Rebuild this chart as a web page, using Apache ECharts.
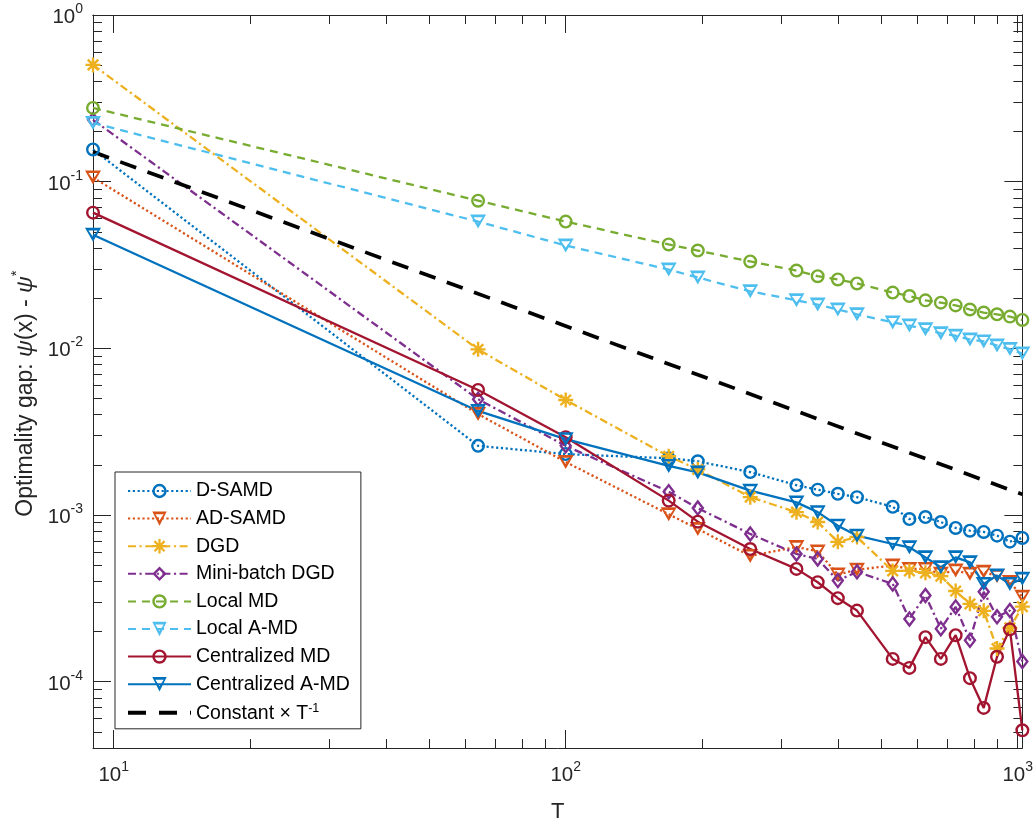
<!DOCTYPE html>
<html><head><meta charset="utf-8">
<script src="https://cdn.jsdelivr.net/npm/echarts@6/dist/echarts.min.js"></script>
<style>html,body{margin:0;padding:0;background:#fff}#c{width:1036px;height:828px}</style>
</head><body><div id="c"></div>
<script>
// ---- data ----
const T = [9, 64, 100, 169, 196, 256, 324, 361, 400, 441, 529, 576, 625, 676, 729, 784, 841, 900, 961, 1024];
const dSAMD    = [0.156, 2.60e-3, 2.32e-3, 2.19e-3, 2.10e-3, 1.81e-3, 1.51e-3, 1.42e-3, 1.34e-3, 1.28e-3, 1.12e-3, 9.46e-4, 9.72e-4, 9.07e-4, 8.36e-4, 8.05e-4, 7.91e-4, 7.52e-4, 6.92e-4, 7.28e-4];
const adSAMD   = [0.106, 4.03e-3, 2.08e-3, 1.01e-3, 8.24e-4, 5.68e-4, 6.43e-4, 6.05e-4, 4.4e-4, 4.7e-4, 4.97e-4, 4.75e-4, 4.75e-4, 4.44e-4, 4.64e-4, 4.44e-4, 4.56e-4, 4.3e-4, 3.97e-4, 3.23e-4];
const dgd      = [0.502, 9.86e-3, 4.9e-3, 2.25e-3, 1.88e-3, 1.28e-3, 1.04e-3, 9.07e-4, 6.9e-4, 7.38e-4, 4.62e-4, 4.62e-4, 4.5e-4, 4.3e-4, 3.5e-4, 2.93e-4, 2.66e-4, 1.58e-4, 2.1e-4, 2.82e-4];
const miniDGD  = [0.235, 4.95e-3, 2.6e-3, 1.38e-3, 1.1e-3, 7.7e-4, 5.84e-4, 5.45e-4, 4.04e-4, 4.56e-4, 3.86e-4, 2.38e-4, 3.29e-4, 2.08e-4, 2.81e-4, 1.77e-4, 3.46e-4, 2.45e-4, 2.67e-4, 1.32e-4];
const localMD  = [0.277, 0.0769, 0.0576, 0.042, 0.0386, 0.0332, 0.0293, 0.0271, 0.0259, 0.0245, 0.0216, 0.0206, 0.0194, 0.0188, 0.0181, 0.0171, 0.0164, 0.016, 0.0155, 0.0148];
const localAMD = [0.225, 0.0576, 0.0414, 0.0297, 0.0266, 0.022, 0.0194, 0.0183, 0.0171, 0.016, 0.0143, 0.0137, 0.013, 0.0123, 0.0119, 0.0113, 0.011, 0.0104, 0.0099, 0.0093];
const centMD   = [0.0652, 5.63e-3, 2.93e-3, 1.22e-3, 9.12e-4, 6.25e-4, 4.75e-4, 3.95e-4, 3.17e-4, 2.67e-4, 1.37e-4, 1.21e-4, 1.85e-4, 1.37e-4, 1.90e-4, 1.05e-4, 6.96e-5, 1.41e-4, 2.06e-4, 5.11e-5];
const centAMD  = [0.048, 4.21e-3, 2.85e-3, 1.97e-3, 1.80e-3, 1.40e-3, 1.19e-3, 1.04e-3, 8.63e-4, 7.52e-4, 6.7e-4, 6.4e-4, 5.57e-4, 4.86e-4, 5.57e-4, 5.2e-4, 3.86e-4, 4.33e-4, 3.86e-4, 4.14e-4];
const constT   = [9, 1024];
const constV   = [0.151, 0.00133];

const seriesNames = ['D-SAMD', 'AD-SAMD', 'DGD', 'Mini-batch DGD', 'Local MD', 'Local A-MD', 'Centralized MD', 'Centralized A-MD', 'Constant × T^-1'];

const xMajorTicks = [10, 100, 1000];
const xMinorTicks = [20, 30, 40, 50, 60, 70, 80, 90, 200, 300, 400, 500, 600, 700, 800, 900];
const yMajorTicks = [1e-4, 1e-3, 1e-2, 1e-1, 1];
const yMinorTicks = [5e-5, 6e-5, 7e-5, 8e-5, 9e-5,
  2e-4, 3e-4, 4e-4, 5e-4, 6e-4, 7e-4, 8e-4, 9e-4,
  2e-3, 3e-3, 4e-3, 5e-3, 6e-3, 7e-3, 8e-3, 9e-3,
  2e-2, 3e-2, 4e-2, 5e-2, 6e-2, 7e-2, 8e-2, 9e-2,
  0.2, 0.3, 0.4, 0.5, 0.6, 0.7, 0.8, 0.9];

// ---- styling ----
const FONT = '"Liberation Sans", Arial, Helvetica, sans-serif';
const AX = '#262626';
const X0 = 9, X1 = 1024, Y0 = 4e-5, Y1 = 1;
const lg = Math.log10;

const SYM = {
  circle: 'path://M10,0A10,10,0,1,1,10,20A10,10,0,1,1,10,0ZM10,3.4A6.6,6.6,0,1,0,10,16.6A6.6,6.6,0,1,0,10,3.4Z',
  tri: 'path://M0,0L20,0L10,17.32ZM4.28,3.3L10,11.0L15.72,3.3Z',
  diamond: 'path://M10,0L20,10L10,20L0,10ZM10,4.6L4.6,10L10,15.4L15.4,10Z',
  star: 'path://M0,8.4H20V11.6H0ZM8.4,0H11.6V20H8.4ZM4.13,1.87L18.13,15.87L15.87,18.13L1.87,4.13ZM15.87,1.87L18.13,4.13L4.13,18.13L1.87,15.87Z'
};
const DOT = [2.2, 2.6];
const DASHDOT = [8, 3.5, 2.2, 3.5];
const DASH = [8, 6];

function mk(name, vals, color, sym, size, dash) {
  return {
    name, type: 'line', xAxisIndex: 0, yAxisIndex: 0, clip: false,
    data: T.map((t, i) => [t, vals[i]]),
    symbol: SYM[sym], symbolSize: size, showSymbol: true, showAllSymbol: true,
    symbolKeepAspect: false,
    lineStyle: { color, width: 2.3, type: dash },
    itemStyle: { color, borderWidth: 0 },
    emphasis: { disabled: true }, animation: false
  };
}

const series = [
  mk(seriesNames[0], dSAMD, '#0072BD', 'circle', 14, DOT),
  mk(seriesNames[1], adSAMD, '#D95319', 'tri', [16, 14], DOT),
  mk(seriesNames[2], dgd, '#EDB120', 'star', 15, DASHDOT),
  mk(seriesNames[3], miniDGD, '#7E2F8E', 'diamond', [13, 17], DASHDOT),
  mk(seriesNames[4], localMD, '#77AC30', 'circle', 14, DASH),
  mk(seriesNames[5], localAMD, '#4DBEEE', 'tri', [16, 14], DASH),
  mk(seriesNames[6], centMD, '#A2142F', 'circle', 14, 'solid'),
  mk(seriesNames[7], centAMD, '#0072BD', 'tri', [16, 14], 'solid'),
  {
    name: seriesNames[8], type: 'line', xAxisIndex: 0, yAxisIndex: 0, clip: false,
    data: constT.map((t, i) => [t, constV[i]]),
    symbol: 'none',
    lineStyle: { color: '#000', width: 3.7, type: [17, 12] },
    itemStyle: { color: '#000' },
    emphasis: { disabled: true }, animation: false
  }
];

const supRich = {
  b: { fontFamily: FONT, fontSize: 20.5, color: AX, lineHeight: 26, verticalAlign: 'bottom' },
  s: { fontFamily: FONT, fontSize: 14, color: AX, lineHeight: 16, verticalAlign: 'top' }
};

function helperX(position, ticks, len, withLabels) {
  return {
    type: 'value', position, gridIndex: 0, min: lg(X0), max: lg(X1),
    axisLine: { show: position === 'top', onZero: false, lineStyle: { color: AX, width: 1 } },
    axisTick: { show: true, inside: true, length: len, customValues: ticks.map(lg), lineStyle: { color: AX, width: 1 } },
    axisLabel: withLabels ? {
      show: true, customValues: ticks.map(lg), margin: 12,
      formatter: v => '{b|10}{s|' + Math.round(v) + '}', rich: supRich
    } : { show: false },
    splitLine: { show: false }
  };
}
function helperY(position, ticks, len, withLabels) {
  return {
    type: 'value', position, gridIndex: 0, min: lg(Y0), max: lg(Y1),
    axisLine: { show: position === 'right', onZero: false, lineStyle: { color: AX, width: 1 } },
    axisTick: { show: true, inside: true, length: len, customValues: ticks.map(lg), lineStyle: { color: AX, width: 1 } },
    axisLabel: withLabels ? {
      show: true, customValues: ticks.map(lg), margin: 10,
      formatter: v => '{b|10}{s|' + Math.round(v) + '}', rich: supRich
    } : { show: false },
    splitLine: { show: false }
  };
}

const option = {
  backgroundColor: '#fff',
  animation: false,
  grid: { left: 93, top: 15, width: 930, height: 734, containLabel: false },
  xAxis: [
    {
      type: 'log', logBase: 10, min: X0, max: X1, position: 'bottom',
      axisLine: { show: true, onZero: false, lineStyle: { color: AX, width: 1 } },
      axisTick: { show: false }, axisLabel: { show: false }, splitLine: { show: false },
      name: 'T', nameLocation: 'middle', nameGap: 53,
      nameTextStyle: { fontFamily: FONT, fontSize: 22, color: AX }
    },
    helperX('bottom', xMajorTicks, 18, true),
    helperX('bottom', xMinorTicks, 9, false),
    helperX('top', xMajorTicks, 18, false),
    helperX('top', xMinorTicks, 9, false)
  ],
  yAxis: [
    {
      type: 'log', logBase: 10, min: Y0, max: Y1, position: 'left',
      axisLine: { show: true, onZero: false, lineStyle: { color: AX, width: 1 } },
      axisTick: { show: false }, axisLabel: { show: false }, splitLine: { show: false },
      name: '{n|Optimality gap: }{i|ψ}{n|(x) - }{i|ψ}{s|*}', nameLocation: 'middle', nameGap: 56, nameRotate: 90,
      nameTextStyle: {
        fontFamily: FONT, fontSize: 23, color: AX, padding: [0, 24, 0, 0],
        rich: {
          n: { fontFamily: FONT, fontSize: 23, color: AX, lineHeight: 28, verticalAlign: 'bottom' },
          i: { fontFamily: FONT, fontSize: 23, fontStyle: 'italic', color: AX, lineHeight: 28, verticalAlign: 'bottom' },
          s: { fontFamily: FONT, fontSize: 15, color: AX, lineHeight: 16, verticalAlign: 'top' }
        }
      }
    },
    helperY('left', yMajorTicks, 18, true),
    helperY('left', yMinorTicks, 9, false),
    helperY('right', yMajorTicks, 18, false),
    helperY('right', yMinorTicks, 9, false)
  ],
  legend: {
    orient: 'vertical', left: 115, top: 472,
    itemWidth: 63, itemHeight: 18, itemGap: 7.6,
    padding: [9, 11, 5, 12],
    backgroundColor: '#fff', borderColor: AX, borderWidth: 1, borderRadius: 0,
    selectedMode: false,
    textStyle: {
      fontFamily: FONT, fontSize: 19.5, color: '#000', lineHeight: 18,
      rich: {
        n: { fontFamily: FONT, fontSize: 19.5, color: '#000', lineHeight: 22, verticalAlign: 'bottom' },
        s: { fontFamily: FONT, fontSize: 12.5, color: '#000', lineHeight: 12, verticalAlign: 'top' }
      }
    },
    formatter: name => name === seriesNames[8] ? '{n|Constant × T}{s|-1}' : name,
    data: seriesNames.slice(0, 8).concat([{ name: seriesNames[8], icon: 'path://M0,0H18V4H0ZM31,0H49V4H31ZM62,0H63V4H62Z' }])
  },
  series
};

const chart = echarts.init(document.getElementById('c'), null, { renderer: 'canvas' });
chart.setOption(option);
</script>
</body></html>
